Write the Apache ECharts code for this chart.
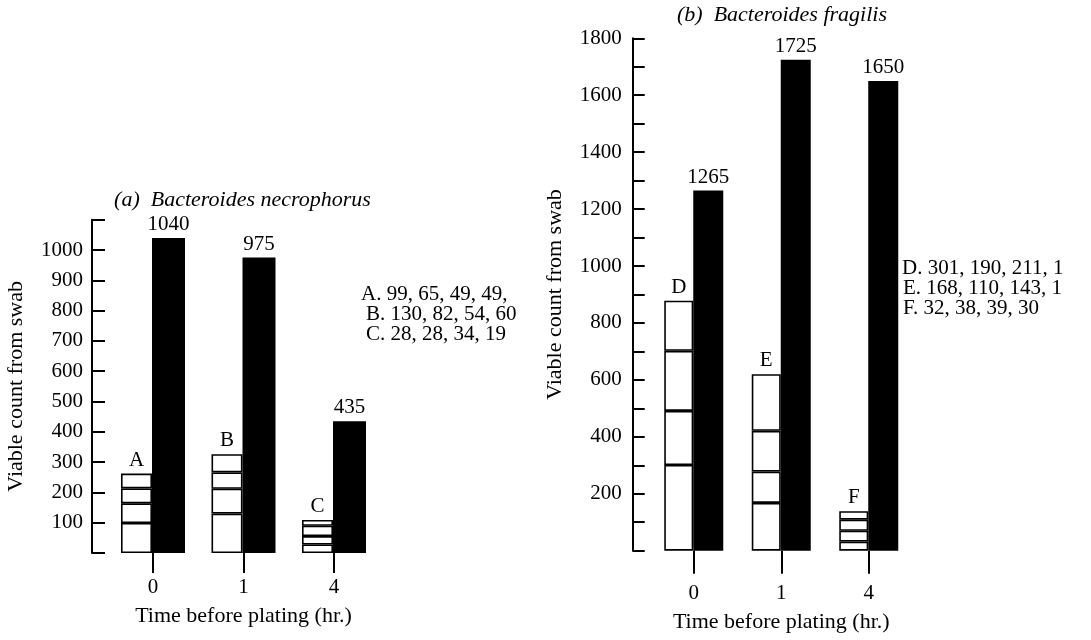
<!DOCTYPE html>
<html>
<head>
<meta charset="utf-8">
<script src="https://cdn.jsdelivr.net/npm/echarts@6/dist/echarts.min.js"></script>
<style>
  html, body { margin: 0; padding: 0; background: #fff; }
  #chart { width: 1091px; height: 640px; }
</style>
</head>
<body>
<div id="chart"></div>
<script>
// ---- Data ----
const categories = ['0', '1', '4'];

// (a) Bacteroides necrophorus : stacked segments (bottom to top), total bars
const necSeg1 = [99, 130, 28];
const necSeg2 = [65, 82, 28];
const necSeg3 = [49, 54, 34];
const necSeg4 = [49, 60, 19];
const necTotal = [1040, 975, 435];
const necLetters = ['A', 'B', 'C'];
const necNotes = ['A. 99, 65, 49, 49,', 'B. 130, 82, 54, 60', 'C. 28, 28, 34, 19'];

// (b) Bacteroides fragilis
const fraSeg1 = [301, 168, 32];
const fraSeg2 = [190, 110, 38];
const fraSeg3 = [211, 143, 39];
const fraSeg4 = [176, 199, 30];   // fourth values truncated in source, estimated
const fraTotal = [1265, 1725, 1650];
const fraLetters = ['D', 'E', 'F'];
const fraNotes = ['D. 301, 190, 211, 1', 'E. 168, 110, 143, 1', 'F. 32, 38, 39, 30'];

const titleA = '(a)  Bacteroides necrophorus';
const titleB = '(b)  Bacteroides fragilis';
const yName = 'Viable count from swab';
const xName = 'Time before plating (hr.)';

// ---- Chart ----
const FONT = 'Liberation Serif';
const chart = echarts.init(document.getElementById('chart'), null, { renderer: 'canvas' });

function whiteSeries(data, axis, width, letters) {
  return data.map((d, i) => ({
    type: 'bar',
    xAxisIndex: axis, yAxisIndex: axis,
    stack: 'w' + axis,
    data: d,
    barWidth: width,
    barGap: '0%',
    itemStyle: { color: '#fff', borderColor: '#000', borderWidth: 1.6 },
    label: i === data.length - 1 ? {
      show: true, position: 'top', distance: 3,
      formatter: p => letters[p.dataIndex],
      fontFamily: FONT, fontSize: 21, color: '#000'
    } : { show: false },
    silent: true,
    animation: false
  }));
}
function blackSeries(data, axis, width) {
  return {
    type: 'bar',
    xAxisIndex: axis, yAxisIndex: axis,
    data: data,
    barWidth: width,
    barGap: '0%',
    itemStyle: { color: '#000' },
    label: {
      show: true, position: 'top', distance: 3,
      formatter: '{c}', fontFamily: FONT, fontSize: 21, color: '#000'
    },
    silent: true,
    animation: false
  };
}

const axisTxt = { fontFamily: FONT, fontSize: 21, color: '#000' };
const noteFont = '21px "' + FONT + '"';

const option = {
  backgroundColor: '#fff',
  animation: false,
  grid: [
    { left: 107.75, top: 219.7, width: 271.5, height: 333.3, outerBoundsMode: 'none', containLabel: false },
    { left: 650, top: 38.3, width: 262.5, height: 512.4, outerBoundsMode: 'none', containLabel: false }
  ],
  xAxis: [
    {
      gridIndex: 0, type: 'category', data: categories, offset: 7,
      axisLine: { show: false },
      axisTick: { show: true, alignWithLabel: true, length: 20, lineStyle: { color: '#000', width: 2 } },
      axisLabel: Object.assign({ margin: 17 }, axisTxt),
      name: xName, nameLocation: 'middle', nameGap: 45,
      nameTextStyle: { fontFamily: FONT, fontSize: 22, color: '#000' },
      splitLine: { show: false }
    },
    {
      gridIndex: 1, type: 'category', data: categories, offset: 6,
      axisLine: { show: false },
      axisTick: { show: true, alignWithLabel: true, length: 23, lineStyle: { color: '#000', width: 2 } },
      axisLabel: Object.assign({ margin: 26 }, axisTxt),
      name: xName, nameLocation: 'middle', nameGap: 55,
      nameTextStyle: { fontFamily: FONT, fontSize: 22, color: '#000' },
      splitLine: { show: false }
    }
  ],
  yAxis: [
    {
      gridIndex: 0, type: 'value', min: 0, max: 1100, interval: 100, offset: 15.75,
      axisLine: { show: true, lineStyle: { color: '#000', width: 2 } },
      axisTick: { show: true, inside: true, length: 13, lineStyle: { color: '#000', width: 2 } },
      axisLabel: Object.assign({ margin: 9, formatter: v => (v > 0 && v <= 1000) ? String(v) : '' }, axisTxt),
      splitLine: { show: false },
      name: yName, nameLocation: 'middle', nameGap: 65,
      nameTextStyle: { fontFamily: FONT, fontSize: 22, color: '#000' }
    },
    {
      gridIndex: 1, type: 'value', min: 0, max: 1800, interval: 100, offset: 17.3,
      axisLine: { show: true, lineStyle: { color: '#000', width: 2 } },
      axisTick: { show: true, inside: true, length: 12, lineStyle: { color: '#000', width: 2 } },
      axisLabel: Object.assign({ margin: 11, formatter: v => (v > 0 && v % 200 === 0) ? String(v) : '' }, axisTxt),
      splitLine: { show: false },
      name: yName, nameLocation: 'middle', nameGap: 66,
      nameTextStyle: { fontFamily: FONT, fontSize: 22, color: '#000' }
    }
  ],
  series: [
    ...whiteSeries([necSeg1, necSeg2, necSeg3, necSeg4], 0, 31, necLetters),
    blackSeries(necTotal, 0, 33),
    ...whiteSeries([fraSeg1, fraSeg2, fraSeg3, fraSeg4], 1, 29, fraLetters),
    blackSeries(fraTotal, 1, 30)
  ],
  graphic: [
    { type: 'text', x: 242.5, y: 200, silent: true,
      style: { text: titleA, font: 'italic 22px "' + FONT + '"', fill: '#000', textAlign: 'center', textVerticalAlign: 'middle' } },
    { type: 'text', x: 782, y: 15, silent: true,
      style: { text: titleB, font: 'italic 22px "' + FONT + '"', fill: '#000', textAlign: 'center', textVerticalAlign: 'middle' } },
    { type: 'text', x: 361, y: 294, silent: true,
      style: { text: necNotes[0], font: noteFont, fill: '#000', textAlign: 'left', textVerticalAlign: 'middle' } },
    { type: 'text', x: 366, y: 314, silent: true,
      style: { text: necNotes[1], font: noteFont, fill: '#000', textAlign: 'left', textVerticalAlign: 'middle' } },
    { type: 'text', x: 366, y: 334, silent: true,
      style: { text: necNotes[2], font: noteFont, fill: '#000', textAlign: 'left', textVerticalAlign: 'middle' } },
    { type: 'text', x: 902, y: 268, silent: true,
      style: { text: fraNotes[0], font: noteFont, fill: '#000', textAlign: 'left', textVerticalAlign: 'middle' } },
    { type: 'text', x: 903, y: 288, silent: true,
      style: { text: fraNotes[1], font: noteFont, fill: '#000', textAlign: 'left', textVerticalAlign: 'middle' } },
    { type: 'text', x: 903, y: 308, silent: true,
      style: { text: fraNotes[2], font: noteFont, fill: '#000', textAlign: 'left', textVerticalAlign: 'middle' } }
  ]
};
chart.setOption(option);
</script>
</body>
</html>
